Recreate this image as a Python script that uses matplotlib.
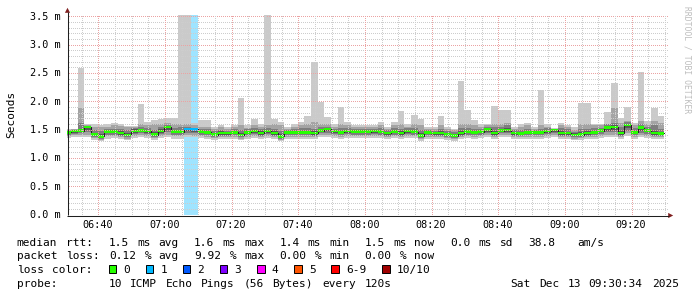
import re
import matplotlib
matplotlib.use("Agg")
import matplotlib.pyplot as plt
from matplotlib.patches import Rectangle, Polygon
import numpy as np

# ---------------- data ----------------
first_step_min = 30          # minutes after 06:00 of first 2-minute step
step_min = 2
median = [1.46, 1.48, 1.49, 1.55, 1.42, 1.39, 1.47, 1.47, 1.45, 1.41,
          1.48, 1.49, 1.48, 1.42, 1.48, 1.55, 1.47, 1.47, 1.52, 1.51,
          1.47, 1.46, 1.42, 1.45, 1.45, 1.46, 1.41, 1.46, 1.48, 1.45,
          1.48, 1.45, 1.39, 1.46, 1.46, 1.46, 1.46, 1.45, 1.49, 1.52,
          1.48, 1.46, 1.48, 1.47, 1.47, 1.47, 1.48, 1.47, 1.45, 1.47,
          1.45, 1.48, 1.47, 1.40, 1.46, 1.45, 1.45, 1.42, 1.40, 1.45,
          1.47, 1.46, 1.47, 1.51, 1.45, 1.49, 1.50, 1.45, 1.44, 1.46,
          1.46, 1.46, 1.48, 1.50, 1.45, 1.45, 1.41, 1.42, 1.45, 1.46,
          1.49, 1.54, 1.55, 1.45, 1.59, 1.46, 1.54, 1.49, 1.45, 1.44]
ping_max = [1.52, 1.52, 2.60, 1.61, 1.60, 1.58, 1.60, 1.63, 1.61, 1.57,
            1.57, 1.96, 1.65, 1.68, 1.69, 1.72, 1.72, 3.60, 3.60, 1.62,
            1.67, 1.67, 1.55, 1.59, 1.55, 1.59, 2.07, 1.58, 1.69, 1.61,
            3.60, 1.70, 1.65, 1.55, 1.61, 1.64, 1.74, 2.70, 1.99, 1.73,
            1.61, 1.90, 1.64, 1.58, 1.58, 1.58, 1.58, 1.65, 1.55, 1.64,
            1.83, 1.60, 1.76, 1.70, 1.55, 1.55, 1.74, 1.56, 1.52, 2.36,
            1.85, 1.67, 1.61, 1.61, 1.92, 1.86, 1.86, 1.55, 1.60, 1.62,
            1.55, 2.20, 1.61, 1.52, 1.63, 1.58, 1.55, 1.98, 1.98, 1.61,
            1.61, 1.82, 2.33, 1.72, 1.90, 1.62, 2.53, 1.66, 1.88, 1.75]
ping_p9 = [1.50, 1.51, 1.89, 1.58, 1.55, 1.55, 1.56, 1.58, 1.57, 1.55,
           1.55, 1.60, 1.58, 1.60, 1.60, 1.62, 1.60, 1.60, 1.60, 1.58,
           1.56, 1.56, 1.52, 1.55, 1.52, 1.55, 1.58, 1.54, 1.58, 1.56,
           1.58, 1.60, 1.58, 1.52, 1.56, 1.58, 1.60, 1.64, 1.60, 1.60,
           1.56, 1.60, 1.58, 1.55, 1.55, 1.55, 1.55, 1.58, 1.52, 1.58,
           1.60, 1.56, 1.60, 1.58, 1.52, 1.52, 1.58, 1.52, 1.50, 1.60,
           1.60, 1.58, 1.56, 1.58, 1.60, 1.60, 1.62, 1.52, 1.56, 1.58,
           1.52, 1.58, 1.56, 1.52, 1.58, 1.55, 1.50, 1.60, 1.60, 1.58,
           1.58, 1.60, 1.89, 1.62, 1.66, 1.58, 1.66, 1.60, 1.66, 1.62]
ping_p8 = [1.49, 1.50, 1.62, 1.57, 1.50, 1.48, 1.52, 1.52, 1.52, 1.50,
           1.53, 1.56, 1.53, 1.50, 1.55, 1.58, 1.54, 1.55, 1.56, 1.54,
           1.51, 1.51, 1.48, 1.50, 1.49, 1.52, 1.50, 1.51, 1.54, 1.52,
           1.53, 1.52, 1.48, 1.50, 1.52, 1.53, 1.54, 1.52, 1.55, 1.56,
           1.52, 1.53, 1.53, 1.51, 1.52, 1.52, 1.52, 1.53, 1.50, 1.53,
           1.52, 1.53, 1.53, 1.50, 1.50, 1.49, 1.52, 1.48, 1.46, 1.54,
           1.53, 1.52, 1.52, 1.56, 1.56, 1.55, 1.58, 1.50, 1.50, 1.52,
           1.50, 1.52, 1.53, 1.54, 1.54, 1.51, 1.47, 1.52, 1.52, 1.53,
           1.54, 1.60, 1.62, 1.56, 1.64, 1.54, 1.60, 1.55, 1.58, 1.52]
ping_p7 = [1.48, 1.49, 1.52, 1.56, 1.45, 1.43, 1.50, 1.49, 1.48, 1.45,
           1.51, 1.52, 1.50, 1.46, 1.51, 1.57, 1.50, 1.50, 1.54, 1.53,
           1.49, 1.48, 1.45, 1.48, 1.47, 1.49, 1.45, 1.48, 1.50, 1.48,
           1.50, 1.48, 1.43, 1.48, 1.48, 1.49, 1.49, 1.48, 1.52, 1.54,
           1.50, 1.49, 1.50, 1.49, 1.49, 1.49, 1.50, 1.49, 1.47, 1.49,
           1.48, 1.50, 1.50, 1.44, 1.48, 1.47, 1.48, 1.45, 1.43, 1.48,
           1.50, 1.48, 1.49, 1.53, 1.48, 1.52, 1.53, 1.47, 1.47, 1.48,
           1.48, 1.48, 1.50, 1.52, 1.48, 1.47, 1.44, 1.46, 1.48, 1.49,
           1.52, 1.56, 1.58, 1.48, 1.61, 1.49, 1.56, 1.52, 1.48, 1.47]
ping_p6 = [1.47, 1.48, 1.50, 1.555, 1.43, 1.40, 1.48, 1.48, 1.46, 1.42,
           1.49, 1.50, 1.49, 1.43, 1.49, 1.56, 1.48, 1.48, 1.53, 1.52,
           1.48, 1.47, 1.43, 1.46, 1.46, 1.47, 1.42, 1.47, 1.49, 1.46,
           1.49, 1.46, 1.40, 1.47, 1.47, 1.47, 1.47, 1.46, 1.50, 1.53,
           1.49, 1.47, 1.49, 1.48, 1.48, 1.48, 1.49, 1.48, 1.46, 1.48,
           1.46, 1.49, 1.48, 1.41, 1.47, 1.46, 1.46, 1.43, 1.41, 1.46,
           1.48, 1.47, 1.48, 1.52, 1.46, 1.50, 1.51, 1.46, 1.45, 1.47,
           1.47, 1.47, 1.49, 1.51, 1.46, 1.46, 1.42, 1.43, 1.46, 1.47,
           1.50, 1.55, 1.56, 1.46, 1.60, 1.47, 1.55, 1.50, 1.46, 1.45]
ping_p5 = [1.45, 1.47, 1.48, 1.545, 1.41, 1.38, 1.46, 1.46, 1.44, 1.40,
           1.47, 1.48, 1.47, 1.41, 1.47, 1.54, 1.46, 1.46, 1.51, 1.50,
           1.46, 1.45, 1.41, 1.44, 1.44, 1.45, 1.40, 1.45, 1.47, 1.44,
           1.47, 1.44, 1.38, 1.45, 1.45, 1.45, 1.45, 1.44, 1.48, 1.51,
           1.47, 1.45, 1.47, 1.46, 1.46, 1.46, 1.47, 1.46, 1.44, 1.46,
           1.44, 1.47, 1.46, 1.39, 1.45, 1.44, 1.44, 1.41, 1.39, 1.44,
           1.46, 1.45, 1.46, 1.50, 1.44, 1.48, 1.49, 1.44, 1.43, 1.45,
           1.45, 1.45, 1.47, 1.49, 1.44, 1.44, 1.40, 1.41, 1.44, 1.45,
           1.48, 1.53, 1.54, 1.44, 1.58, 1.45, 1.53, 1.48, 1.44, 1.43]
ping_p4 = [1.43, 1.45, 1.46, 1.50, 1.40, 1.37, 1.44, 1.44, 1.42, 1.39,
           1.45, 1.46, 1.45, 1.40, 1.45, 1.50, 1.44, 1.44, 1.48, 1.47,
           1.44, 1.43, 1.40, 1.42, 1.42, 1.43, 1.39, 1.43, 1.45, 1.42,
           1.45, 1.42, 1.37, 1.43, 1.43, 1.43, 1.43, 1.42, 1.46, 1.48,
           1.45, 1.43, 1.45, 1.44, 1.44, 1.44, 1.45, 1.44, 1.42, 1.44,
           1.42, 1.45, 1.44, 1.38, 1.43, 1.42, 1.42, 1.40, 1.38, 1.42,
           1.44, 1.43, 1.44, 1.47, 1.42, 1.46, 1.47, 1.42, 1.41, 1.43,
           1.43, 1.43, 1.45, 1.47, 1.42, 1.42, 1.39, 1.40, 1.42, 1.43,
           1.46, 1.49, 1.50, 1.42, 1.53, 1.43, 1.49, 1.46, 1.42, 1.41]
ping_p3 = [1.41, 1.43, 1.44, 1.46, 1.38, 1.35, 1.42, 1.42, 1.40, 1.37,
           1.43, 1.44, 1.43, 1.38, 1.43, 1.46, 1.42, 1.42, 1.45, 1.44,
           1.42, 1.41, 1.38, 1.40, 1.40, 1.41, 1.37, 1.41, 1.43, 1.40,
           1.43, 1.40, 1.35, 1.41, 1.41, 1.41, 1.41, 1.40, 1.44, 1.45,
           1.43, 1.41, 1.43, 1.42, 1.42, 1.42, 1.43, 1.42, 1.40, 1.42,
           1.40, 1.43, 1.42, 1.36, 1.41, 1.40, 1.40, 1.38, 1.36, 1.40,
           1.42, 1.41, 1.42, 1.44, 1.40, 1.44, 1.44, 1.40, 1.39, 1.41,
           1.41, 1.41, 1.43, 1.44, 1.40, 1.40, 1.37, 1.38, 1.40, 1.41,
           1.43, 1.46, 1.46, 1.40, 1.48, 1.41, 1.45, 1.43, 1.40, 1.39]
ping_p2 = [1.39, 1.41, 1.41, 1.42, 1.36, 1.33, 1.39, 1.39, 1.37, 1.35,
           1.40, 1.41, 1.40, 1.36, 1.40, 1.42, 1.39, 1.39, 1.41, 1.40,
           1.39, 1.38, 1.36, 1.38, 1.37, 1.38, 1.35, 1.38, 1.40, 1.38,
           1.40, 1.38, 1.33, 1.38, 1.38, 1.38, 1.38, 1.38, 1.41, 1.42,
           1.40, 1.38, 1.40, 1.39, 1.39, 1.39, 1.40, 1.39, 1.38, 1.39,
           1.38, 1.40, 1.39, 1.34, 1.38, 1.38, 1.38, 1.36, 1.34, 1.38,
           1.39, 1.38, 1.39, 1.41, 1.38, 1.41, 1.41, 1.38, 1.37, 1.38,
           1.38, 1.38, 1.40, 1.41, 1.38, 1.38, 1.35, 1.36, 1.38, 1.38,
           1.40, 1.42, 1.42, 1.38, 1.44, 1.38, 1.41, 1.40, 1.38, 1.37]
ping_min = [1.36, 1.38, 1.37, 1.38, 1.33, 1.30, 1.35, 1.36, 1.34, 1.32,
            1.36, 1.37, 1.36, 1.33, 1.36, 1.38, 1.35, 1.35, 1.37, 1.37,
            1.36, 1.35, 1.33, 1.35, 1.34, 1.35, 1.32, 1.35, 1.36, 1.35,
            1.36, 1.35, 1.30, 1.35, 1.35, 1.35, 1.35, 1.35, 1.37, 1.38,
            1.36, 1.35, 1.36, 1.36, 1.36, 1.36, 1.36, 1.36, 1.35, 1.36,
            1.35, 1.36, 1.36, 1.31, 1.35, 1.35, 1.35, 1.33, 1.31, 1.35,
            1.36, 1.35, 1.36, 1.37, 1.35, 1.37, 1.37, 1.35, 1.34, 1.35,
            1.35, 1.35, 1.36, 1.37, 1.35, 1.35, 1.32, 1.33, 1.35, 1.35,
            1.36, 1.38, 1.38, 1.35, 1.40, 1.35, 1.37, 1.36, 1.35, 1.34]
loss_pings = [0] * 18 + [1, 1] + [0] * 70     # lost pings per step (of 10)

y_ticks = [0.0, 0.5, 1.0, 1.5, 2.0, 2.5, 3.0, 3.5]
y_tick_labels = ["0.0 m", "0.5 m", "1.0 m", "1.5 m", "2.0 m", "2.5 m", "3.0 m", "3.5 m"]
x_ticks = [40, 60, 80, 100, 120, 140, 160, 180, 200]       # minutes after 06:00
x_tick_labels = ["06:40", "07:00", "07:20", "07:40", "08:00", "08:20", "08:40", "09:00", "09:20"]

loss_labels = ["0", "1", "2", "3", "4", "5", "6-9", "10/10"]
loss_colors = ["#26ff00", "#00b8ff", "#0059ff", "#7e00ff", "#ff00ff", "#ff5500", "#ff0000", "#a00000"]

legend_line1 = "median rtt:  1.5 ms avg  1.6 ms max  1.4 ms min  1.5 ms now  0.0 ms sd  38.8   am/s"
legend_line2 = "packet loss: 0.12 % avg  9.92 % max  0.00 % min  0.00 % now"
legend_line3 = "loss color:"
legend_line4 = "probe:       10 ICMP Echo Pings (56 Bytes) every 120s"
legend_date = "Sat Dec 13 09:30:34 2025"

# ---------------- layout ----------------
W, H = 697, 297
fig = plt.figure(figsize=(W / 100, H / 100), dpi=100)
fig.patch.set_facecolor("white")

PL, PR, PT, PB = 67.0, 667.0, 15.0, 215.0
XMIN = 30.76
XMAX = XMIN + 180
YMAX = 3.53

ax = fig.add_axes([PL / W, 1 - PB / H, (PR - PL) / W, (PB - PT) / H])
ax.set_xlim(XMIN, XMAX)
ax.set_ylim(0, YMAX)
ax.axis("off")

n = len(median)
x0 = [first_step_min + step_min * k for k in range(n)]


def loss_level(p):
    if p < 6:
        return p
    return 6 if p < 10 else 7


# loss background
for k in range(n):
    if loss_pings[k] > 0:
        ax.bar(x0[k], YMAX, bottom=0, width=step_min, align="edge",
               color=loss_colors[loss_level(loss_pings[k])], alpha=0x60 / 255,
               linewidth=0, zorder=1)

# smoke
pings = np.sort(np.array([ping_min, ping_p2, ping_p3, ping_p4, ping_p5,
                          ping_p6, ping_p7, ping_p8, ping_p9, ping_max]), axis=0)
half = 5
for i in range(half):
    c = int(190 / half * (half - 1 - i)) + 50
    col = "#%02x%02x%02x" % (c, c, c)
    lo = pings[i]
    hi = pings[9 - i]
    ax.bar(x0, hi - lo, bottom=lo, width=step_min, align="edge", color=col,
           linewidth=0, zorder=2 + i * 0.01, antialiased=False)

# median line
edges = x0 + [x0[-1] + step_min]
ax.step(edges, median + [median[-1]], where="post", color="#202020", lw=0.75, zorder=4)
sw = 1.3 * YMAX / 200.0
for k in range(n):
    ax.bar(x0[k], 2 * sw, bottom=median[k] - sw, width=step_min, align="edge",
           color=loss_colors[loss_level(loss_pings[k])], linewidth=0, zorder=5)

# ---------------- overlay in pixel coords ----------------
ov = fig.add_axes([0, 0, 1, 1])
ov.set_xlim(0, W)
ov.set_ylim(H, 0)
ov.axis("off")
ov.patch.set_alpha(0)

ypx = lambda v: PB - (v / YMAX) * (PB - PT)
xpx = lambda m: PL + (m - XMIN) / (XMAX - XMIN) * (PR - PL)

# dotted grid, one pixel on / one pixel off (rrdtool style)
grid_minor = "#cdcdcd"
grid_major = "#eba3a3"
hx = np.arange(int(PL) + 1, int(PR), 2) + 0.5
vy = np.arange(int(PT) + 1, int(PB), 2) + 0.5
for j in range(1, 36):
    v = j / 10
    col = grid_major if j % 5 == 0 else grid_minor
    yc = np.floor(ypx(v)) + 0.5
    ov.plot(hx, np.full(hx.shape, yc), ls="none", marker=",", color=col)
for m in range(35, 211, 5):
    col = grid_major if m % 20 == 0 else grid_minor
    xc = np.floor(xpx(m)) + 0.5
    ov.plot(np.full(vy.shape, xc), vy, ls="none", marker=",", color=col)

axis_col = "#1f1f1f"
arrow_col = "#801f1f"
ov.plot([PL + 0.5, PL + 0.5], [PB, 12], color=axis_col, lw=0.75, solid_capstyle="butt")
ov.plot([PL, 668.5], [PB + 0.5, PB + 0.5], color=axis_col, lw=0.75, solid_capstyle="butt")
ov.add_patch(Polygon([(PL - 2.1, 12.8), (PL + 3.1, 12.8), (PL + 0.5, 7.8)], closed=True,
                     color=arrow_col, lw=0))
ov.add_patch(Polygon([(668.2, PB - 2.1), (668.2, PB + 3.1), (673.2, PB + 0.5)], closed=True,
                     color=arrow_col, lw=0))

mono = "DejaVu Sans Mono"
for v, lab in zip(y_ticks, y_tick_labels):
    ov.text(60.5, ypx(v), lab, ha="right", va="center", fontsize=7.3, family=mono, color="#000000")
for m, lab in zip(x_ticks, x_tick_labels):
    ov.text(xpx(m), 225.5, lab, ha="center", va="center", fontsize=7.3, family=mono, color="#000000")

ov.text(11, 114, "Seconds", rotation=90, ha="center", va="center", fontsize=8.0, family=mono)
ov.text(687.5, 60, "RRDTOOL / TOBI OETIKER", rotation=-90, ha="center", va="center",
        fontsize=5.8, family=mono, color="#bdbdbd")

ADV = 7.1
LX = 16.7
LFS = 8.0


def put_line(s, x_start, y):
    for mt in re.finditer(r"\S+", s):
        ov.text(x_start + mt.start() * ADV, y, mt.group(), ha="left", va="baseline",
                fontsize=LFS, family=mono, color="#000000")


put_line(legend_line1, LX, 245.7)
put_line(legend_line2, LX, 259.4)
put_line(legend_line3, LX, 273.0)
put_line(legend_line4, LX, 286.7)
put_line(legend_date, 681 - len(legend_date) * ADV, 286.7)

bx = 108.5
for lab, col in zip(loss_labels, loss_colors):
    ov.add_patch(Rectangle((bx, 265.3), 7.6, 7.6, facecolor=col, edgecolor="#000000", lw=0.7))
    lx = bx + 14.8
    ov.text(lx, 273.0, lab, ha="left", va="baseline", fontsize=LFS, family=mono)
    bx = lx + len(lab) * ADV + 15.2

fig.savefig("out.png", dpi=100, facecolor="white")
